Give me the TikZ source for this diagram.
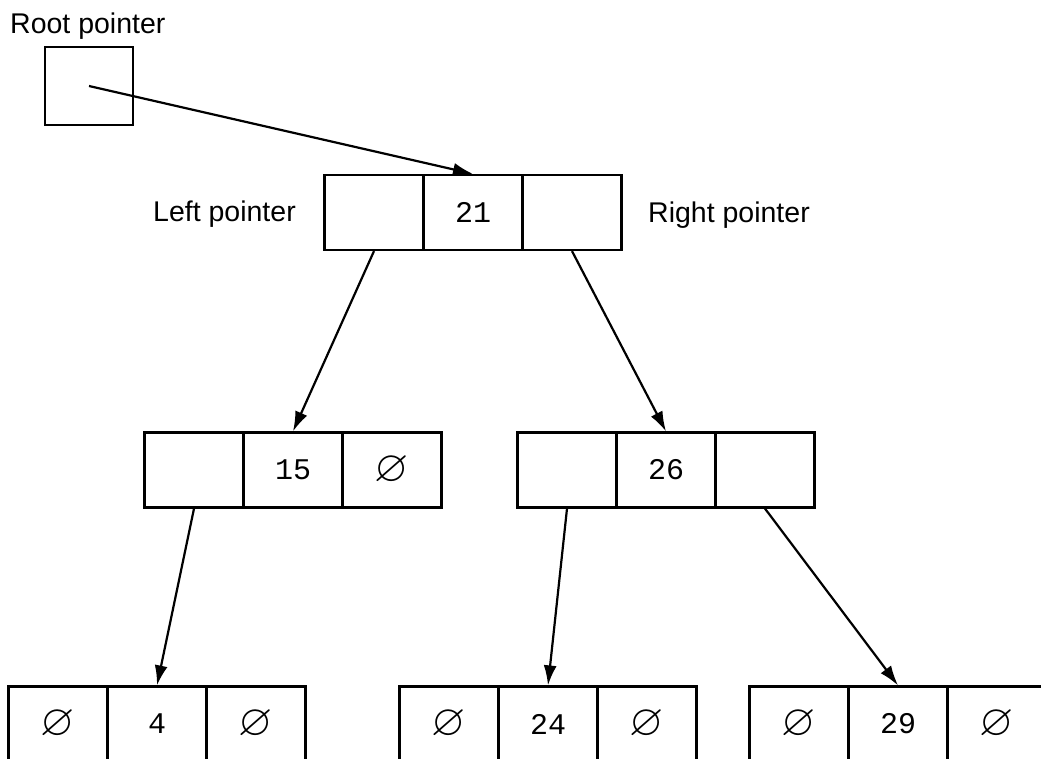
\documentclass[tikz,border=0pt]{standalone}
\usepackage{amsmath}
\usepackage{amssymb}
\usepackage{fontspec}
\setmainfont{Liberation Sans}
\newfontfamily\cellfont{Liberation Mono}
\usetikzlibrary{arrows.meta}

\begin{document}
\begin{tikzpicture}[x=1pt,y=-1pt,
	cell/.style={draw, line width=2.2pt, minimum width=99pt, minimum height=75pt, inner sep=0pt, font=\fontsize{30}{0}\selectfont\cellfont},
	nil/.style={cell, font=\fontsize{44}{0}\selectfont},
	ptr/.style={line width=2.2pt, -{Latex[length=20pt,width=13pt]}},
	lbl/.style={anchor=base west, inner sep=0pt, font=\fontsize{28.5}{0}\selectfont}]

	\clip (0,0) rectangle (1041,758);

	% labels
	\node (rootlbl) at (10,33) [lbl] {Root pointer};
	\node (leftlbl) at (153,221) [lbl] {Left pointer};
	\node (rightlbl) at (648,222) [lbl] {Right pointer};

	% root
	\node (root) at (89,86) [cell, minimum width=88pt, minimum height=78pt] {};

	% level 1
	\node (l21) at (374,212.5) [cell] {};
	\node (c21) at (473,212.5) [cell] {21};
	\node (r21) at (572,212.5) [cell] {};

	% level 2
	\node (l15) at (194,470) [cell] {};
	\node (c15) at (293,470) [cell] {15};
	\node (r15) at (392,470) [nil] {$\varnothing$};
	\node (l26) at (567,470) [cell] {};
	\node (c26) at (666,470) [cell] {26};
	\node (r26) at (765,470) [cell] {};

	% level 3
	\node (l4) at (58,724) [nil] {$\varnothing$};
	\node (c4) at (157,724) [cell] {4};
	\node (r4) at (256,724) [nil] {$\varnothing$};
	\node (l24) at (449,724) [nil] {$\varnothing$};
	\node (c24) at (548,724) [cell] {24};
	\node (r24) at (647,724) [nil] {$\varnothing$};
	\node (l29) at (799,724) [nil] {$\varnothing$};
	\node (c29) at (898,724) [cell] {29};
	\node (r29) at (997,724) [nil] {$\varnothing$};

	\draw[ptr] (root.center)--(c21.north);
	\draw[ptr] (l21.south)--(c15.north);
	\draw[ptr] (r21.south)--(c26.north);
	\draw[ptr] (l15.south)--(c4.north);
	\draw[ptr] (l26.south)--(c24.north);
	\draw[ptr] (r26.south)--(c29.north);
\end{tikzpicture}
\end{document}
